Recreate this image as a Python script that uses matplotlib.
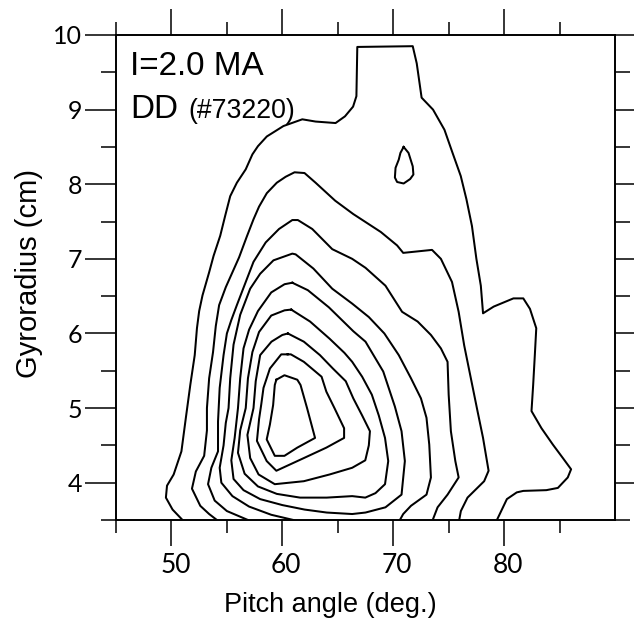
import matplotlib
matplotlib.use("Agg")
import matplotlib.pyplot as plt
from matplotlib import font_manager as fm
from matplotlib.ticker import FixedLocator
from matplotlib.transforms import ScaledTranslation

# ---------------- data (pitch angle [deg], gyroradius [cm]) ----------------
x_major = [50, 60, 70, 80]
x_minor = [45, 55, 65, 75, 85]
x_labels = ["50", "60", "70", "80"]
y_major = [4, 5, 6, 7, 8, 9, 10]
y_minor = [3.5, 4.5, 5.5, 6.5, 7.5, 8.5, 9.5]
y_labels = ["4", "5", "6", "7", "8", "9", "10"]

contour_1 = [(51.0, 3.5), (50.1, 3.64), (49.5, 3.80), (49.6, 3.96), (50.2, 4.11), (50.9, 4.42),
             (51.3, 4.87), (51.7, 5.31), (52.1, 5.71), (52.3, 6.07), (52.5, 6.30), (52.8, 6.51),
             (53.4, 6.82), (53.8, 7.04), (54.4, 7.31), (54.85, 7.58), (55.3, 7.84), (55.9, 8.02),
             (56.7, 8.20), (57.3, 8.40), (57.8, 8.51), (58.6, 8.64), (60.1, 8.78), (61.8, 8.87),
             (63.0, 8.84), (64.8, 8.82), (65.65, 8.91), (66.38, 9.04), (66.68, 9.18), (66.76, 9.84),
             (71.76, 9.85), (72.12, 9.62), (72.56, 9.16), (73.59, 9.0), (74.62, 8.73), (75.35, 8.42),
             (76.09, 8.11), (76.6, 7.80), (77.1, 7.44), (77.5, 7.00), (77.9, 6.64), (78.1, 6.27),
             (79.06, 6.36), (80.84, 6.47), (81.73, 6.47), (82.33, 6.33), (82.9, 6.07), (82.77, 5.71),
             (82.62, 5.31), (82.47, 4.96), (83.37, 4.73), (84.40, 4.51), (85.30, 4.33), (86.04, 4.18),
             (85.74, 4.07), (84.85, 3.93), (83.81, 3.90), (81.73, 3.89), (81.14, 3.87), (80.25, 3.78),
             (79.35, 3.5)]

island = [(70.94, 8.50), (71.38, 8.42), (71.76, 8.24), (71.82, 8.13), (71.53, 8.07), (70.94, 8.01),
          (70.35, 8.03), (70.15, 8.09), (70.21, 8.22), (70.50, 8.33), (70.65, 8.42), (70.94, 8.50)]

contour_2 = [(54.1, 3.5), (53.4, 3.58), (52.6, 3.69), (51.85, 3.92), (52.2, 4.15), (52.95, 4.36),
             (53.2, 4.70), (53.2, 5.0), (53.4, 5.4), (53.75, 5.75), (54.0, 6.10), (54.3, 6.38),
             (54.9, 6.62), (55.5, 6.82), (56.1, 7.02), (56.8, 7.30), (57.4, 7.53), (57.9, 7.70),
             (58.6, 7.88), (59.5, 8.02), (60.3, 8.10), (61.1, 8.16), (62.0, 8.15), (63.0, 8.02),
             (64.76, 7.78), (66.4, 7.60), (68.88, 7.36), (70.35, 7.18), (70.9, 7.08), (73.5, 7.12),
             (74.3, 7.0), (75.3, 6.69), (75.9, 6.29), (76.4, 5.84), (77.0, 5.40), (77.6, 4.96),
             (78.1, 4.60), (78.6, 4.16), (78.2, 4.02), (76.7, 3.80), (76.1, 3.62), (75.95, 3.5)]

contour_3 = [(56.9, 3.5), (55.0, 3.62), (53.9, 3.76), (53.3, 3.98), (53.6, 4.20), (54.2, 4.42),
             (54.2, 4.82), (54.35, 5.27), (54.7, 5.71), (55.0, 6.0), (55.4, 6.18), (55.9, 6.38),
             (56.7, 6.69), (57.4, 6.96), (58.5, 7.22), (59.7, 7.40), (60.9, 7.52), (61.4, 7.52),
             (62.7, 7.40), (64.5, 7.13), (66.3, 7.0), (67.5, 6.88), (69.3, 6.64), (70.8, 6.29),
             (72.2, 6.16), (73.4, 5.98), (74.3, 5.80), (74.9, 5.62), (75.0, 5.18), (75.2, 4.69),
             (75.6, 4.29), (75.9, 4.07), (74.9, 3.84), (74.0, 3.67), (73.56, 3.5)]

contour_4 = [(61.0, 3.5), (59.0, 3.57), (57.0, 3.68), (55.5, 3.82), (54.5, 4.0), (54.35, 4.2),
             (54.7, 4.5), (54.9, 4.8), (55.15, 5.0), (55.3, 5.4), (55.6, 5.85), (56.2, 6.25),
             (57.1, 6.6), (58.0, 6.8), (59.2, 6.98), (60.9, 7.07), (61.2, 7.06), (62.8, 6.87),
             (64.5, 6.6), (66.3, 6.40), (67.8, 6.22), (69.2, 6.0), (70.5, 5.71), (71.6, 5.40),
             (72.5, 5.13), (73.0, 4.87), (73.25, 4.51), (73.4, 4.07), (73.0, 3.84), (71.6, 3.69),
             (70.9, 3.58), (70.6, 3.5)]

contour_5 = [(60.9, 6.68), (62.3, 6.58), (64.2, 6.35), (66.4, 6.03), (67.5, 5.89), (69.1, 5.49),
             (70.15, 5.02), (70.75, 4.69), (71.05, 4.29), (70.75, 3.84), (69.3, 3.67), (67.5, 3.60),
             (66.3, 3.58), (64.0, 3.60), (62.0, 3.64), (60.0, 3.70), (58.0, 3.78), (56.5, 3.90),
             (55.6, 4.05), (55.4, 4.30), (55.7, 4.60), (56.0, 5.0), (56.2, 5.40), (56.5, 5.80),
             (57.0, 6.05), (57.8, 6.30), (59.0, 6.55), (60.2, 6.66), (60.9, 6.68)]

contour_6 = [(60.8, 6.32), (62.5, 6.16), (64.26, 5.93), (65.6, 5.74), (66.3, 5.62), (67.2, 5.42),
             (68.07, 5.18), (68.7, 4.9), (69.26, 4.60), (69.55, 4.29), (69.26, 3.98), (68.4, 3.86),
             (67.48, 3.80), (66.3, 3.82), (64.0, 3.80), (61.6, 3.80), (59.5, 3.85), (57.8, 3.95),
             (56.6, 4.12), (56.0, 4.40), (56.2, 4.70), (56.7, 5.0), (56.9, 5.40), (57.3, 5.75),
             (57.9, 6.02), (59.0, 6.24), (60.2, 6.31), (60.8, 6.32)]

contour_7 = [(60.5, 6.0), (61.94, 5.89), (63.39, 5.71), (64.56, 5.53), (65.72, 5.36), (66.4, 5.13),
             (67.2, 4.90), (67.9, 4.69), (67.8, 4.50), (67.48, 4.30), (66.3, 4.20), (64.26, 4.11),
             (61.94, 4.02), (59.32, 3.98), (57.86, 4.11), (57.1, 4.33), (56.85, 4.64), (57.4, 5.0),
             (57.6, 5.36), (58.0, 5.71), (59.02, 5.89), (60.0, 5.98), (60.5, 6.0)]

contour_8 = [(60.48, 5.72), (60.77, 5.72), (61.94, 5.62), (63.54, 5.42), (63.97, 5.22), (64.70, 5.0),
             (65.57, 4.73), (65.57, 4.60), (63.97, 4.47), (61.94, 4.33), (59.46, 4.16), (58.59, 4.29),
             (57.71, 4.56), (57.9, 4.85), (58.1, 5.05), (58.3, 5.27), (58.88, 5.53), (59.90, 5.72),
             (60.48, 5.72)]

contour_9 = [(59.46, 5.38), (60.19, 5.44), (61.35, 5.38), (61.64, 5.31), (62.23, 5.0), (62.95, 4.60),
             (61.35, 4.47), (60.19, 4.36), (59.32, 4.36), (58.59, 4.58), (58.88, 4.78), (59.17, 5.04),
             (59.32, 5.31), (59.46, 5.38)]

contours = [contour_1, island, contour_2, contour_3, contour_4, contour_5,
            contour_6, contour_7, contour_8, contour_9]

# ---------------- fonts ----------------
names = {f.name for f in fm.fontManager.ttflist}
if "Liberation Sans Narrow" in names:
    narrow, nscale = "Liberation Sans Narrow", 1.0
else:
    narrow, nscale = "Liberation Sans", 0.87
tick_family = "Lato" if "Lato" in names else "DejaVu Sans"

# ---------------- figure ----------------
W, H = 634, 624
fig = plt.figure(figsize=(W / 100, H / 100), dpi=100)
L, R, T, B = 116, 615, 35, 520
ax = fig.add_axes([L / W, 1 - B / H, (R - L) / W, (B - T) / H])
ax.set_xlim(45, 90)
ax.set_ylim(3.5, 10)

for c in contours:
    xs, ys = zip(*c)
    ax.plot(xs, ys, color="black", lw=1.45, solid_joinstyle="round")

for s in ax.spines.values():
    s.set_linewidth(1.4)
    s.set_color("black")

ax.xaxis.set_major_locator(FixedLocator(x_major))
ax.xaxis.set_minor_locator(FixedLocator(x_minor))
ax.yaxis.set_major_locator(FixedLocator(y_major))
ax.yaxis.set_minor_locator(FixedLocator(y_minor))
ax.set_xticklabels(x_labels, fontsize=19, family=tick_family, color="black")
ax.set_yticklabels(y_labels, fontsize=18, family=tick_family, color="black")

ax.tick_params(axis="both", which="both", direction="out", top=True, right=True,
               labeltop=False, labelright=False, width=1.1, color="black")
ax.tick_params(axis="x", which="major", length=19, pad=5)
ax.tick_params(axis="x", which="minor", length=9.5)
ax.tick_params(axis="y", which="major", length=22.3, pad=2)
ax.tick_params(axis="y", which="minor", length=10.8)

shift = ScaledTranslation(4 / 100, 0, fig.dpi_scale_trans)
for lab in ax.get_xticklabels():
    lab.set_transform(lab.get_transform() + shift)

fig.text(330 / W, 1 - 612 / H, "Pitch angle (deg.)", ha="center", va="baseline",
         fontsize=19.5, family="Liberation Sans")
fig.text(29 / W, 1 - 273 / H, "Gyroradius (cm)", rotation=90, ha="center", va="center",
         fontsize=21, family="Liberation Sans")

ax.text((130 - L) / (R - L), (B - 75) / (B - T), "I=2.0 MA", transform=ax.transAxes,
        ha="left", va="baseline", fontsize=27.5 * nscale, family=narrow)
ax.text((130 - L) / (R - L), (B - 118) / (B - T), "DD", transform=ax.transAxes,
        ha="left", va="baseline", fontsize=27.5 * nscale, family=narrow)
ax.text((188 - L) / (R - L), (B - 118) / (B - T), "(#73220)", transform=ax.transAxes,
        ha="left", va="baseline", fontsize=22 * nscale, family=narrow)

fig.savefig("out.png", dpi=100)
